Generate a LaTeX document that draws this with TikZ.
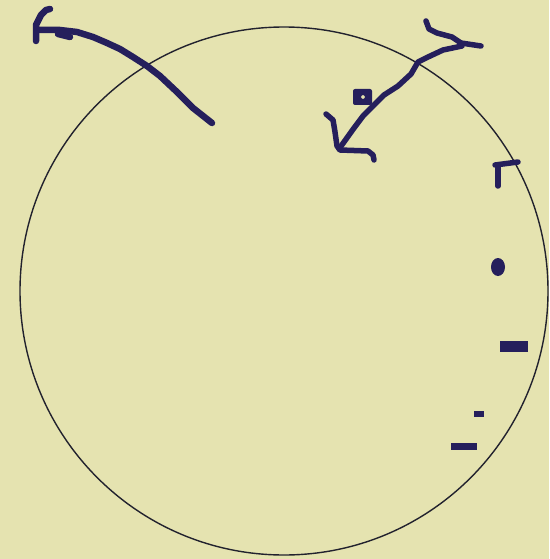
\documentclass[tikz,border=0pt]{standalone}
\usepackage{tikz}
\usetikzlibrary{calc}
\definecolor{sketchbg}{HTML}{E5E3B0}
\definecolor{sketchink}{HTML}{251F5C}
\definecolor{sketchrim}{HTML}{22222E}
\tikzset{
  rim/.style={draw=sketchrim, line width=1.4pt},
  ink/.style={draw=sketchink, line width=6.5pt, line cap=round, line join=round},
  thinink/.style={draw=sketchink, line width=5.5pt, line cap=round, line join=round},
  blot/.style={fill=sketchink}
}
\begin{document}
\begin{tikzpicture}[x=1pt,y=-1pt]
  \fill[sketchbg] (0,0) rectangle (549,559);
  \useasboundingbox (0,0) rectangle (549,559);
  \coordinate (hub) at (284,291);
  \draw[rim] (hub) circle[radius=264];
  % stroke crossing the rim on the upper left
  \draw[ink] (212,123) -- (193,108) -- (177,92) -- (160,76) -- (147,66) -- (133,57)
    -- (120,49) -- (107,43) -- (93,37) -- (77,32) -- (60,30) -- (37,30);
  \draw[ink] (58,34) -- (70,37);
  \draw[ink] (36,41) -- (36,25) -- (41,15) -- (46,10) -- (50,9);
  % stroke crossing the rim on the upper right
  \draw[thinink] (426,21) -- (429,29) -- (437,33) -- (452,37) -- (461,43) -- (481,46);
  \draw[thinink] (462,46) -- (443,50) -- (428,57) -- (418,62) -- (411,74) -- (398,86)
    -- (384,95) -- (373,106) -- (363,116) -- (354,128) -- (344,142) -- (339,149);
  \draw[thinink] (326,114) -- (333,120) -- (335,132) -- (337,146) -- (340,150)
    -- (368,151) -- (373,155) -- (374,160);
  \fill[blot, even odd rule, rounded corners=2pt] (353,89) rectangle (372,105)
    (361,95) rectangle (365,99);
  % marks along the right side
  \draw[thinink] (495,165) -- (518,162);
  \draw[thinink] (498,166) -- (498,186);
  \fill[blot] (498,267) ellipse[x radius=7, y radius=9];
  \fill[blot] (500,341) rectangle (528,352);
  \fill[blot] (474,411) rectangle (484,417);
  \fill[blot] (451,443) rectangle (477,450);
\end{tikzpicture}
\end{document}
